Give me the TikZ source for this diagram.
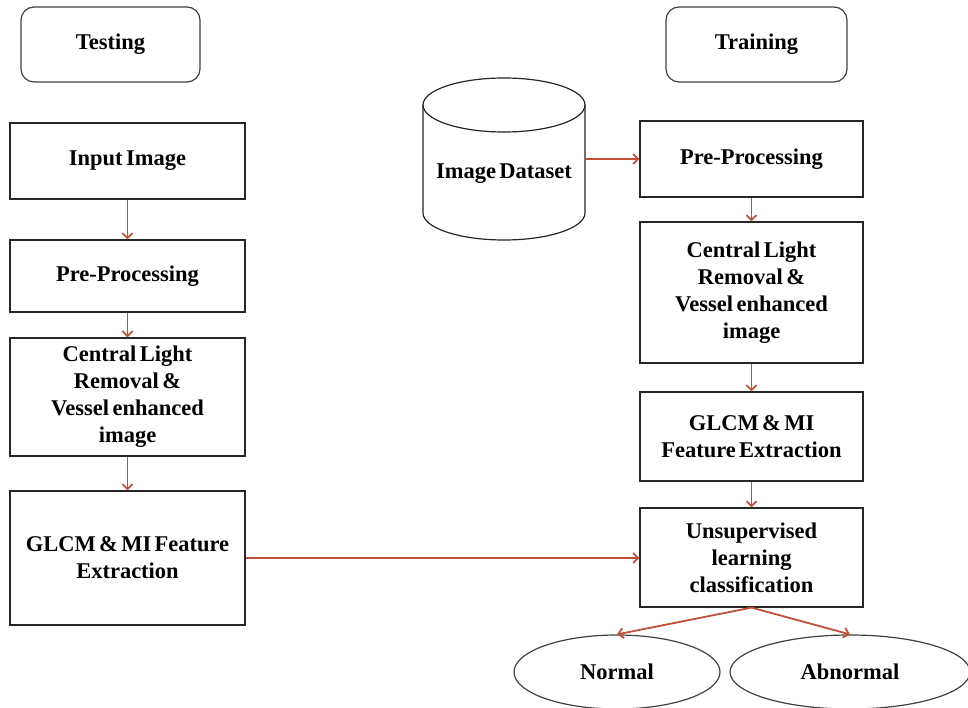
\documentclass[tikz,border=0pt]{standalone}
\usepackage{fontspec}
\setmainfont[WordSpace=0.6]{Liberation Serif}
\usetikzlibrary{arrows.meta,shapes.geometric}
\definecolor{arr}{RGB}{192,80,56}
\begin{document}
\begin{tikzpicture}[x=1pt,y=-1pt,
  every node/.style={font=\fontsize{22.5}{27}\selectfont\bfseries, align=flush center, inner sep=2pt},
  box/.style={draw=black!85, line width=1.2pt, rectangle, text width=#1},
  box/.default=200pt,
  hdr/.style={draw=black!75, line width=1.2pt, rounded corners=13pt, minimum width=179pt, minimum height=75pt},
  oval/.style={draw=black!75, line width=1.2pt, ellipse, minimum height=74pt},
  flow/.style={draw=arr, line width=1.8pt, -{Straight Barb[length=5pt,width=10pt]}}]
\useasboundingbox (0,0) rectangle (968,708);
% headers
\node[hdr] (testing) at (110.5,44.5) {Testing};
\node[hdr, minimum width=181pt] (training) at (756.5,44.5) {Training};
% left column
\node[box, minimum width=235pt, minimum height=76pt] (inL) at (127.5,161) {Input Image};
\node[box, minimum width=235pt, minimum height=72pt] (preL) at (127.5,276) {Pre-Processing};
\node[box=190pt, minimum width=235pt, minimum height=118pt] (clL) at (127.5,397) {Central Light\\Removal \&\\Vessel enhanced\\image};
\node[box=228pt, minimum width=235pt, minimum height=134pt] (glL) at (127.5,558) {GLCM \& MI Feature\\Extraction};
% cylinder
\draw[black!85, line width=1.2pt, fill=white] (423,105) -- (423,213) arc[start angle=180, end angle=0, x radius=81, y radius=27] -- (585,105);
\draw[black!85, line width=1.2pt] (504,105) ellipse[x radius=81, y radius=27];
\node[minimum width=162pt, minimum height=162pt] (ds) at (504,159) {};
\node at (504,174) {Image Dataset};
% right column
\node[box, minimum width=223pt, minimum height=76pt] (preR) at (751.5,159) {Pre-Processing};
\node[box=190pt, minimum width=223pt, minimum height=141pt] (clR) at (751.5,292.5) {Central Light\\Removal \&\\Vessel enhanced\\image};
\node[box=216pt, minimum width=223pt, minimum height=89pt] (glR) at (751.5,436.5) {GLCM \& MI\\Feature Extraction};
\node[box=200pt, minimum width=223pt, minimum height=99pt] (un) at (751.5,557.5) {Unsupervised\\learning\\classification};
% outcomes
\node[oval, minimum width=206pt] (normal) at (617,672) {Normal};
\node[oval, minimum width=240pt] (abnormal) at (850,672) {Abnormal};
% connectors
\draw[flow] (inL) -- (preL);
\draw[flow] (preL) -- (clL);
\draw[flow] (clL) -- (glL);
\draw[flow] (glL.east) -- (glL.east -| un.west);
\draw[flow] (ds.east |- preR.west) -- (preR.west);
\draw[flow] (preR) -- (clR);
\draw[flow] (clR) -- (glR);
\draw[flow] (glR) -- (un);
\draw[flow] (un.south) -- (normal.north);
\draw[flow] (un.south) -- (abnormal.north);
\end{tikzpicture}
\end{document}
